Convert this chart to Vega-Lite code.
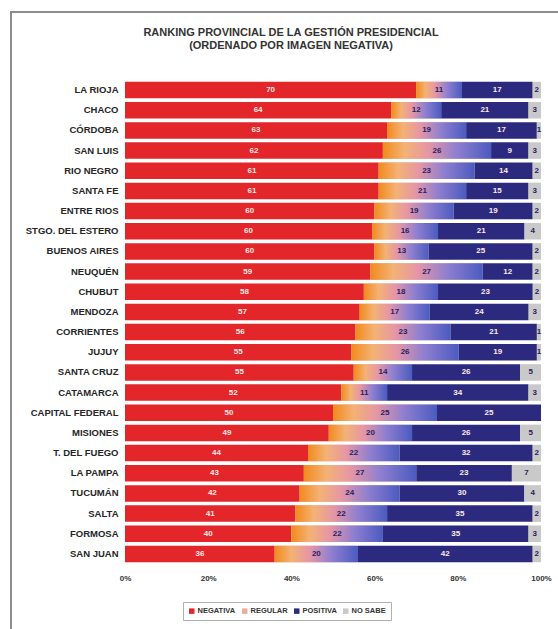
{
  "$schema": "https://vega.github.io/schema/vega-lite/v6.json",
  "autosize": "none",
  "width": 560,
  "height": 630,
  "padding": {"left": 11, "top": 12, "right": 0, "bottom": 0},
  "background": "white",
  "config": {"view": {"stroke": "#8c8c8c", "strokeWidth": 2}, "font": "Liberation Sans"},
  "title": {
    "text": ["RANKING PROVINCIAL DE LA GESTIÓN PRESIDENCIAL", "(ORDENADO POR IMAGEN NEGATIVA)"],
    "fontSize": 11,
    "fontWeight": "bold",
    "color": "#333333",
    "anchor": "middle",
    "frame": "group",
    "offset": -39,
    "lineHeight": 13
  },
  "datasets": {
    "encuesta": [
      {"provincia": "LA RIOJA", "opinion": "NEGATIVA", "orden": 1, "pct": 70},
      {"provincia": "LA RIOJA", "opinion": "REGULAR", "orden": 2, "pct": 11},
      {"provincia": "LA RIOJA", "opinion": "POSITIVA", "orden": 3, "pct": 17},
      {"provincia": "LA RIOJA", "opinion": "NO SABE", "orden": 4, "pct": 2},
      {"provincia": "CHACO", "opinion": "NEGATIVA", "orden": 1, "pct": 64},
      {"provincia": "CHACO", "opinion": "REGULAR", "orden": 2, "pct": 12},
      {"provincia": "CHACO", "opinion": "POSITIVA", "orden": 3, "pct": 21},
      {"provincia": "CHACO", "opinion": "NO SABE", "orden": 4, "pct": 3},
      {"provincia": "CÓRDOBA", "opinion": "NEGATIVA", "orden": 1, "pct": 63},
      {"provincia": "CÓRDOBA", "opinion": "REGULAR", "orden": 2, "pct": 19},
      {"provincia": "CÓRDOBA", "opinion": "POSITIVA", "orden": 3, "pct": 17},
      {"provincia": "CÓRDOBA", "opinion": "NO SABE", "orden": 4, "pct": 1},
      {"provincia": "SAN LUIS", "opinion": "NEGATIVA", "orden": 1, "pct": 62},
      {"provincia": "SAN LUIS", "opinion": "REGULAR", "orden": 2, "pct": 26},
      {"provincia": "SAN LUIS", "opinion": "POSITIVA", "orden": 3, "pct": 9},
      {"provincia": "SAN LUIS", "opinion": "NO SABE", "orden": 4, "pct": 3},
      {"provincia": "RIO NEGRO", "opinion": "NEGATIVA", "orden": 1, "pct": 61},
      {"provincia": "RIO NEGRO", "opinion": "REGULAR", "orden": 2, "pct": 23},
      {"provincia": "RIO NEGRO", "opinion": "POSITIVA", "orden": 3, "pct": 14},
      {"provincia": "RIO NEGRO", "opinion": "NO SABE", "orden": 4, "pct": 2},
      {"provincia": "SANTA FE", "opinion": "NEGATIVA", "orden": 1, "pct": 61},
      {"provincia": "SANTA FE", "opinion": "REGULAR", "orden": 2, "pct": 21},
      {"provincia": "SANTA FE", "opinion": "POSITIVA", "orden": 3, "pct": 15},
      {"provincia": "SANTA FE", "opinion": "NO SABE", "orden": 4, "pct": 3},
      {"provincia": "ENTRE RIOS", "opinion": "NEGATIVA", "orden": 1, "pct": 60},
      {"provincia": "ENTRE RIOS", "opinion": "REGULAR", "orden": 2, "pct": 19},
      {"provincia": "ENTRE RIOS", "opinion": "POSITIVA", "orden": 3, "pct": 19},
      {"provincia": "ENTRE RIOS", "opinion": "NO SABE", "orden": 4, "pct": 2},
      {"provincia": "STGO. DEL ESTERO", "opinion": "NEGATIVA", "orden": 1, "pct": 60},
      {"provincia": "STGO. DEL ESTERO", "opinion": "REGULAR", "orden": 2, "pct": 16},
      {"provincia": "STGO. DEL ESTERO", "opinion": "POSITIVA", "orden": 3, "pct": 21},
      {"provincia": "STGO. DEL ESTERO", "opinion": "NO SABE", "orden": 4, "pct": 4},
      {"provincia": "BUENOS AIRES", "opinion": "NEGATIVA", "orden": 1, "pct": 60},
      {"provincia": "BUENOS AIRES", "opinion": "REGULAR", "orden": 2, "pct": 13},
      {"provincia": "BUENOS AIRES", "opinion": "POSITIVA", "orden": 3, "pct": 25},
      {"provincia": "BUENOS AIRES", "opinion": "NO SABE", "orden": 4, "pct": 2},
      {"provincia": "NEUQUÉN", "opinion": "NEGATIVA", "orden": 1, "pct": 59},
      {"provincia": "NEUQUÉN", "opinion": "REGULAR", "orden": 2, "pct": 27},
      {"provincia": "NEUQUÉN", "opinion": "POSITIVA", "orden": 3, "pct": 12},
      {"provincia": "NEUQUÉN", "opinion": "NO SABE", "orden": 4, "pct": 2},
      {"provincia": "CHUBUT", "opinion": "NEGATIVA", "orden": 1, "pct": 58},
      {"provincia": "CHUBUT", "opinion": "REGULAR", "orden": 2, "pct": 18},
      {"provincia": "CHUBUT", "opinion": "POSITIVA", "orden": 3, "pct": 23},
      {"provincia": "CHUBUT", "opinion": "NO SABE", "orden": 4, "pct": 2},
      {"provincia": "MENDOZA", "opinion": "NEGATIVA", "orden": 1, "pct": 57},
      {"provincia": "MENDOZA", "opinion": "REGULAR", "orden": 2, "pct": 17},
      {"provincia": "MENDOZA", "opinion": "POSITIVA", "orden": 3, "pct": 24},
      {"provincia": "MENDOZA", "opinion": "NO SABE", "orden": 4, "pct": 3},
      {"provincia": "CORRIENTES", "opinion": "NEGATIVA", "orden": 1, "pct": 56},
      {"provincia": "CORRIENTES", "opinion": "REGULAR", "orden": 2, "pct": 23},
      {"provincia": "CORRIENTES", "opinion": "POSITIVA", "orden": 3, "pct": 21},
      {"provincia": "CORRIENTES", "opinion": "NO SABE", "orden": 4, "pct": 1},
      {"provincia": "JUJUY", "opinion": "NEGATIVA", "orden": 1, "pct": 55},
      {"provincia": "JUJUY", "opinion": "REGULAR", "orden": 2, "pct": 26},
      {"provincia": "JUJUY", "opinion": "POSITIVA", "orden": 3, "pct": 19},
      {"provincia": "JUJUY", "opinion": "NO SABE", "orden": 4, "pct": 1},
      {"provincia": "SANTA CRUZ", "opinion": "NEGATIVA", "orden": 1, "pct": 55},
      {"provincia": "SANTA CRUZ", "opinion": "REGULAR", "orden": 2, "pct": 14},
      {"provincia": "SANTA CRUZ", "opinion": "POSITIVA", "orden": 3, "pct": 26},
      {"provincia": "SANTA CRUZ", "opinion": "NO SABE", "orden": 4, "pct": 5},
      {"provincia": "CATAMARCA", "opinion": "NEGATIVA", "orden": 1, "pct": 52},
      {"provincia": "CATAMARCA", "opinion": "REGULAR", "orden": 2, "pct": 11},
      {"provincia": "CATAMARCA", "opinion": "POSITIVA", "orden": 3, "pct": 34},
      {"provincia": "CATAMARCA", "opinion": "NO SABE", "orden": 4, "pct": 3},
      {"provincia": "CAPITAL FEDERAL", "opinion": "NEGATIVA", "orden": 1, "pct": 50},
      {"provincia": "CAPITAL FEDERAL", "opinion": "REGULAR", "orden": 2, "pct": 25},
      {"provincia": "CAPITAL FEDERAL", "opinion": "POSITIVA", "orden": 3, "pct": 25},
      {"provincia": "CAPITAL FEDERAL", "opinion": "NO SABE", "orden": 4, "pct": 0},
      {"provincia": "MISIONES", "opinion": "NEGATIVA", "orden": 1, "pct": 49},
      {"provincia": "MISIONES", "opinion": "REGULAR", "orden": 2, "pct": 20},
      {"provincia": "MISIONES", "opinion": "POSITIVA", "orden": 3, "pct": 26},
      {"provincia": "MISIONES", "opinion": "NO SABE", "orden": 4, "pct": 5},
      {"provincia": "T. DEL FUEGO", "opinion": "NEGATIVA", "orden": 1, "pct": 44},
      {"provincia": "T. DEL FUEGO", "opinion": "REGULAR", "orden": 2, "pct": 22},
      {"provincia": "T. DEL FUEGO", "opinion": "POSITIVA", "orden": 3, "pct": 32},
      {"provincia": "T. DEL FUEGO", "opinion": "NO SABE", "orden": 4, "pct": 2},
      {"provincia": "LA PAMPA", "opinion": "NEGATIVA", "orden": 1, "pct": 43},
      {"provincia": "LA PAMPA", "opinion": "REGULAR", "orden": 2, "pct": 27},
      {"provincia": "LA PAMPA", "opinion": "POSITIVA", "orden": 3, "pct": 23},
      {"provincia": "LA PAMPA", "opinion": "NO SABE", "orden": 4, "pct": 7},
      {"provincia": "TUCUMÁN", "opinion": "NEGATIVA", "orden": 1, "pct": 42},
      {"provincia": "TUCUMÁN", "opinion": "REGULAR", "orden": 2, "pct": 24},
      {"provincia": "TUCUMÁN", "opinion": "POSITIVA", "orden": 3, "pct": 30},
      {"provincia": "TUCUMÁN", "opinion": "NO SABE", "orden": 4, "pct": 4},
      {"provincia": "SALTA", "opinion": "NEGATIVA", "orden": 1, "pct": 41},
      {"provincia": "SALTA", "opinion": "REGULAR", "orden": 2, "pct": 22},
      {"provincia": "SALTA", "opinion": "POSITIVA", "orden": 3, "pct": 35},
      {"provincia": "SALTA", "opinion": "NO SABE", "orden": 4, "pct": 2},
      {"provincia": "FORMOSA", "opinion": "NEGATIVA", "orden": 1, "pct": 40},
      {"provincia": "FORMOSA", "opinion": "REGULAR", "orden": 2, "pct": 22},
      {"provincia": "FORMOSA", "opinion": "POSITIVA", "orden": 3, "pct": 35},
      {"provincia": "FORMOSA", "opinion": "NO SABE", "orden": 4, "pct": 3},
      {"provincia": "SAN JUAN", "opinion": "NEGATIVA", "orden": 1, "pct": 36},
      {"provincia": "SAN JUAN", "opinion": "REGULAR", "orden": 2, "pct": 20},
      {"provincia": "SAN JUAN", "opinion": "POSITIVA", "orden": 3, "pct": 42},
      {"provincia": "SAN JUAN", "opinion": "NO SABE", "orden": 4, "pct": 2}
    ]
  },
  "data": {"name": "encuesta"},
  "transform": [
    {"stack": "pct", "groupby": ["provincia"], "sort": [{"field": "orden", "order": "ascending"}], "offset": "normalize", "as": ["x0", "x1"]}
  ],
  "encoding": {
    "y": {
      "field": "provincia",
      "type": "nominal",
      "sort": ["LA RIOJA", "CHACO", "CÓRDOBA", "SAN LUIS", "RIO NEGRO", "SANTA FE", "ENTRE RIOS", "STGO. DEL ESTERO", "BUENOS AIRES", "NEUQUÉN", "CHUBUT", "MENDOZA", "CORRIENTES", "JUJUY", "SANTA CRUZ", "CATAMARCA", "CAPITAL FEDERAL", "MISIONES", "T. DEL FUEGO", "LA PAMPA", "TUCUMÁN", "SALTA", "FORMOSA", "SAN JUAN"],
      "scale": {"range": [68, 552], "paddingInner": 0.18, "paddingOuter": 0.09},
      "axis": {"title": null, "orient": "left", "offset": -114, "domain": false, "ticks": false, "labelPadding": 7, "labelFontSize": 9.5, "labelFontWeight": "bold", "labelColor": "#262626"}
    }
  },
  "layer": [
    {
      "mark": {"type": "bar"},
      "encoding": {
        "x": {
          "field": "x0",
          "type": "quantitative",
          "scale": {"domain": [0, 1], "range": [114, 530]},
          "axis": {"title": null, "orient": "bottom", "offset": -71, "values": [0, 0.2, 0.4, 0.6, 0.8, 1], "format": ".0%", "domain": false, "ticks": false, "grid": false, "labelFlush": false, "labelPadding": 3, "labelFontSize": 8, "labelFontWeight": "bold", "labelColor": "#333333"}
        },
        "x2": {"field": "x1"},
        "color": {
          "field": "opinion",
          "type": "nominal",
          "scale": {"domain": ["NEGATIVA", "REGULAR", "POSITIVA", "NO SABE"], "range": ["#e2262a", "#e9ad9a", "#2b2a7f", "#c9c9c9"]},
          "legend": {"title": null, "orient": "none", "legendX": 172, "legendY": 590, "direction": "horizontal", "symbolType": "square", "symbolSize": 30, "symbolOffset": 0, "labelOffset": 2, "columnPadding": 5, "labelFontSize": 7.5, "labelFontWeight": "bold", "labelColor": "#333333", "strokeColor": "#b0b0b0", "padding": 5}
        }
      }
    },
    {
      "transform": [{"filter": "datum.opinion === 'REGULAR'"}],
      "mark": {
        "type": "bar",
        "opacity": 1,
        "color": {"gradient": "linear", "x1": 0, "y1": 0, "x2": 1, "y2": 0, "stops": [
          {"offset": 0, "color": "#f28a1e"},
          {"offset": 0.2, "color": "#f4b274"},
          {"offset": 0.42, "color": "#e596a6"},
          {"offset": 0.68, "color": "#8f7fd0"},
          {"offset": 1, "color": "#4b5bc0"}
        ]}
      },
      "encoding": {
        "x": {"field": "x0", "type": "quantitative"},
        "x2": {"field": "x1"}
      }
    },
    {
      "transform": [
        {"filter": "datum.pct > 0"},
        {"calculate": "(datum.x0 + datum.x1) / 2", "as": "xmid"}
      ],
      "mark": {"type": "text", "fontSize": 8, "fontWeight": "bold", "baseline": "middle", "align": "center"},
      "encoding": {
        "x": {"field": "xmid", "type": "quantitative"},
        "text": {"field": "pct", "type": "quantitative"},
        "color": {"condition": {"test": "datum.opinion === 'NEGATIVA' || datum.opinion === 'POSITIVA'", "value": "#ffe8e8"}, "value": "#2a2060"}
      }
    }
  ]
}
